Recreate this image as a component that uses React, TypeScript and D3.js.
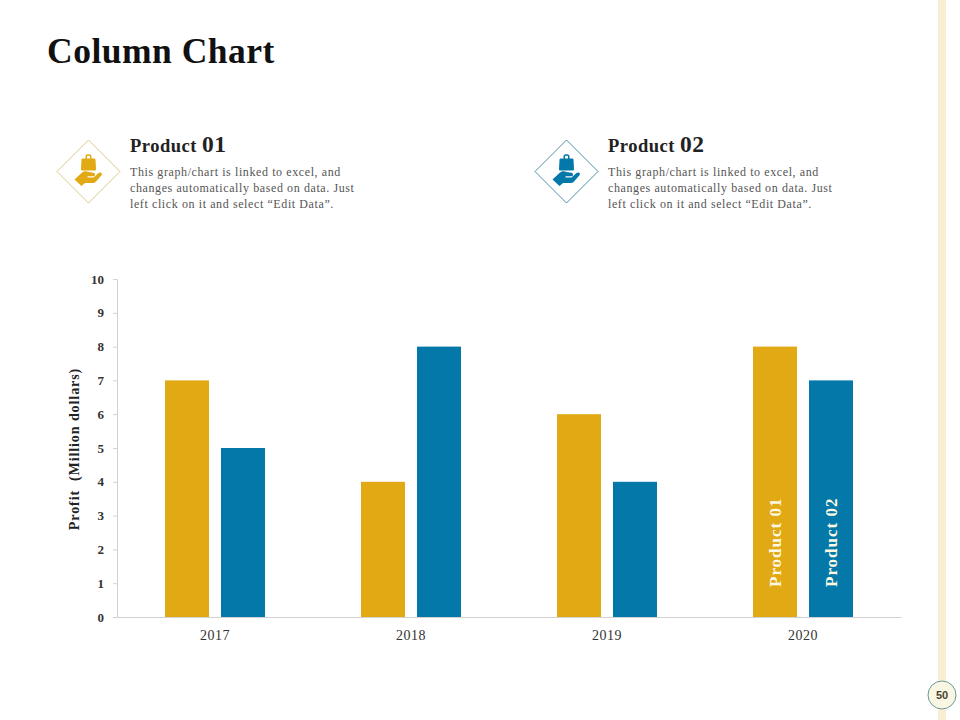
import React, { useEffect, useRef } from "react";
import * as d3 from "d3";

const years = ["2017", "2018", "2019", "2020"];
const product01 = [7, 4, 6, 8];
const product02 = [5, 8, 4, 7];
const seriesNames = ["Product 01", "Product 02"];
const seriesColors = ["#e1a913", "#0378a9"];
const blurbLines = [
    "This graph/chart is linked to excel, and",
    "changes automatically based on data. Just",
    "left click on it and select \u201CEdit Data\u201D.",
];

const serif = "'Liberation Serif', serif";

const x0 = d3.scaleBand().domain(years).range([117, 901]);
const groupWidth = 100;
const x1 = d3.scaleBand().domain(seriesNames).range([0, groupWidth]).paddingInner(0.214);
const y = d3.scaleLinear().domain([0, 10]).range([617, 279]);

function Header({ x, iconX, name, color, border }: { x: number; iconX: number; name: string; color: string; border: string }) {
    const [word, num] = name.split(" ");
    return (
        <g>
            <g transform={`translate(${iconX},171.5)`}>
                <path d="M0,-31.5L31.5,0L0,31.5L-31.5,0Z" fill="#fff" stroke={border} strokeWidth={1} />
                <path d="M-5.5,-13H-3V-15.5C-3,-17.8 3,-17.8 3,-15.5V-13H5.5C6.5,-13 7,-12.5 7,-11.5L7.5,-2.5C7.5,-1.5 7,-1 6,-1H-6C-7,-1 -7.5,-1.5 -7.5,-2.5L-7,-11.5C-7,-12.5 -6.5,-13 -5.5,-13ZM-1.5,-13H1.5V-15C1.5,-16 -1.5,-16 -1.5,-15Z" fill={color} fillRule="evenodd" />
                <path d="M-14,8L-7,1.5C-5,-0.5 -2,-0.5 0,0.5L5,1.2C7,1.6 7,4.4 5,4.8L-1,4.8V6L5,6L10,1.5C12,0 14.5,1.5 13,3.8L7.5,10C6.5,11 5.5,11.5 3.5,11.5H-3.5L-7,14.5Z" fill={color} />
            </g>
            <text x={x} y={152} fontFamily={serif} fontWeight="bold" fontSize={18.5} fill="#222" letterSpacing={0.5}>
                {word} <tspan fontSize={23.5}>{num}</tspan>
            </text>
            {blurbLines.map((line, i) => (
                <text key={i} x={x} y={176 + i * 16} fontFamily={serif} fontSize={12} fill="#555" letterSpacing={0.6}>
                    {line}
                </text>
            ))}
        </g>
    );
}

export default function App() {
    const yAxisRef = useRef<SVGGElement | null>(null);
    const xAxisRef = useRef<SVGGElement | null>(null);

    useEffect(() => {
        const yAxis = d3.select(yAxisRef.current!)
            .call(d3.axisLeft(y).ticks(10).tickSize(4).tickPadding(9).tickFormat(d3.format("d")) as any);
        yAxis.selectAll("path, line").attr("stroke", "#d2d2d2");
        yAxis.selectAll("text")
            .attr("dy", "0.32em")
            .attr("font-family", serif)
            .attr("font-weight", "bold")
            .attr("font-size", 13)
            .attr("fill", "#333");

        const xAxis = d3.select(xAxisRef.current!)
            .call(d3.axisBottom(x0).tickSize(0).tickPadding(13) as any);
        xAxis.selectAll("path").attr("stroke", "#d2d2d2");
        xAxis.selectAll("text")
            .attr("font-family", serif)
            .attr("font-size", 14)
            .attr("letter-spacing", 0.5)
            .attr("fill", "#333");
    }, []);

    const lastYear = years[years.length - 1];

    return (
        <svg width={960} height={720} style={{ position: "absolute", left: 0, top: 0, background: "#fff" }}>
            <rect x={938} y={0} width={8} height={720} fill="#f8eed3" />
            <circle cx={942} cy={695} r={14} fill="#f9f6e4" stroke="#6b9a94" strokeWidth={1} />
            <text x={942} y={699} textAnchor="middle" fontFamily="'Liberation Sans', sans-serif" fontWeight="bold" fontSize={11} fill="#4a4230">50</text>

            <text x={47} y={63} fontFamily={serif} fontWeight="bold" fontSize={35.5} fill="#111" letterSpacing={0.5}>Column Chart</text>

            <Header x={130} iconX={88.5} name={seriesNames[0]} color={seriesColors[0]} border="#dcc88c" />
            <Header x={608} iconX={566.5} name={seriesNames[1]} color={seriesColors[1]} border="#4f8fa8" />

            <g ref={yAxisRef} transform="translate(117,0)" />
            <g ref={xAxisRef} transform="translate(0,617)" />

            <text transform="translate(79,449) rotate(-90)" textAnchor="middle" fontFamily={serif} fontWeight="bold" fontSize={14} fill="#222" letterSpacing={0.92} xmlSpace="preserve">
                Profit  (Million dollars)
            </text>

            {[product01, product02].map((values, s) => (
                <g key={seriesNames[s]}>
                    {values.map((v, i) => {
                        const left = x0(years[i])! + (x0.bandwidth() - groupWidth) / 2 + x1(seriesNames[s])!;
                        return <rect key={years[i]} x={left} y={y(v)} width={x1.bandwidth()} height={y(0) - y(v)} fill={seriesColors[s]} />;
                    })}
                    <text
                        transform={`translate(${x0(lastYear)! + (x0.bandwidth() - groupWidth) / 2 + x1(seriesNames[s])! + x1.bandwidth() / 2 + 6},587) rotate(-90)`}
                        fontFamily={serif}
                        fontWeight="bold"
                        fontSize={17}
                        fill="#fdf8e2"
                        letterSpacing={1}
                    >
                        {seriesNames[s]}
                    </text>
                </g>
            ))}
        </svg>
    );
}
